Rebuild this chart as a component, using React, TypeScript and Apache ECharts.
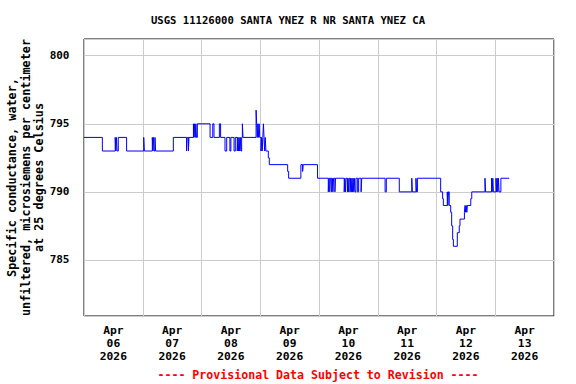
import React, { useEffect, useRef } from "react";
import * as echarts from "echarts";

// Hours since Apr 06 2026 00:00 at which a new reading starts
const hours: number[] = [
  0, 7.5, 12.75, 13.0, 13.25, 13.5, 14.0, 17.4, 24.4, 24.65, 27.9, 28.15, 28.4, 28.65, 29.0, 29.25,
  36.5, 41.9, 42.15, 42.65, 42.9, 44.7, 44.95, 45.2, 45.45, 45.7, 45.95, 46.3, 51.5, 52.6, 53.1,
  55.3, 55.8, 57.6, 58.3, 59.6, 60.0, 61.3, 61.8, 62.6, 62.85, 63.1, 63.35, 63.6, 63.85, 64.1, 64.4,
  64.7, 64.95, 70.3, 70.55, 70.8, 71.05, 71.3, 71.55, 71.8, 72.3, 72.55, 72.8, 73.05, 73.3, 73.55,
  73.8, 74.05, 74.3, 75.3, 75.7, 83.2, 83.6, 88.6, 89.3, 89.55, 95.4, 99.8, 100.05, 100.4, 100.65,
  101.2, 101.45, 101.7, 101.95, 102.5, 102.75, 106.3, 106.55, 106.8, 107.05, 107.6, 107.85, 108.1,
  108.35, 108.7, 108.95, 109.2, 109.45, 109.7, 109.95, 110.2, 110.45, 110.7, 111.1, 111.8, 112.2,
  113.2, 113.45, 123.0, 123.5, 128.8, 133.9, 134.15, 135.6, 135.85, 136.2, 145.7, 146.5, 146.8,
  148.4, 148.65, 148.9, 149.2, 149.8, 150.2, 150.6, 150.9, 152.5, 153.3, 153.6, 155.4, 155.65,
  155.9, 156.15, 156.4, 156.6, 158.0, 158.4, 163.8, 164.05, 166.5, 166.75, 167.0, 167.25, 168.3,
  168.55, 168.8, 169.05, 169.3, 169.55, 170.3, 173.7,
];

// Specific conductance (microsiemens per cm at 25 °C)
const conductance: number[] = [
  794, 793, 794, 793, 794, 793, 794, 793, 794, 793, 794, 793, 794, 793, 794, 793,
  794, 793, 794, 793, 794, 795, 794, 795, 794, 795, 794, 795, 794, 795, 794,
  795, 794, 793, 794, 793, 794, 793, 794, 793, 794, 793, 794, 793, 794, 793, 794,
  795, 794, 796, 795, 794, 795, 794, 795, 794, 793, 794, 793, 794, 795, 794,
  793, 794, 793, 792.5, 792, 791.5, 791, 792, 791.5, 792, 791, 790, 791, 790, 791,
  790, 791, 790, 791, 790, 791, 790, 791, 790, 791, 790, 791, 790,
  791, 790, 791, 790, 791, 790, 791, 790, 791, 790, 791, 790, 791,
  790, 791, 790, 791, 790, 791, 790, 791, 790, 791, 790, 789.5, 789,
  790, 789, 790, 789, 788.5, 787.5, 786.5, 786, 787, 787.5, 788, 788.5, 789,
  788.5, 789, 788.5, 789, 789.5, 790, 791, 790, 791, 790, 791, 790, 791,
  790, 791, 790, 791, 790, 791, 791,
];

const dayLabels: string[] = ["06", "07", "08", "09", "10", "11", "12", "13"];
const monthLabel = "Apr";
const yearLabel = "2026";

const titleText = "USGS 11126000 SANTA YNEZ R NR SANTA YNEZ CA";
const yAxisName =
  "Specific conductance, water,\nunfiltered, microsiemens per centimeter\nat 25 degrees Celsius";
const footerText = "---- Provisional Data Subject to Revision ----";

const FONT = '"DejaVu Sans Mono", "Liberation Mono", monospace';

export default function App() {
  const ref = useRef<HTMLDivElement>(null);

  useEffect(() => {
    if (!ref.current) return;
    const chart = echarts.init(ref.current, undefined, { renderer: "svg" });
    const data = hours.map((h, i) => [h, conductance[i]]);
    chart.setOption({
      animation: false,
      backgroundColor: "#ffffff",
      title: {
        text: titleText,
        left: "center",
        top: 14,
        padding: 0,
        textStyle: {
          fontFamily: FONT,
          fontWeight: "bold",
          fontSize: 10.6,
          color: "#000",
        },
      },
      grid: {
        left: 84,
        right: 22,
        top: 39,
        bottom: 68,
        show: true,
        borderColor: "#000",
        borderWidth: 1,
        backgroundColor: "transparent",
        containLabel: false,
        outerBoundsMode: "none",
      },
      xAxis: [
        {
          type: "value",
          min: 0,
          max: 192,
          interval: 24,
          axisLine: { show: false },
          axisTick: { show: false },
          axisLabel: { show: false },
          splitLine: { show: true, lineStyle: { color: "#cccccc", width: 1 } },
        },
        {
          type: "value",
          position: "bottom",
          min: 0,
          max: 192,
          interval: 12,
          axisLine: { show: false },
          axisTick: { show: false },
          splitLine: { show: false },
          axisLabel: {
            show: true,
            margin: 8,
            fontFamily: FONT,
            fontWeight: "bold",
            fontSize: 11.3,
            lineHeight: 12.8,
            color: "#000",
            formatter: (v: number) => {
              if (Math.round(v) % 24 !== 12) return "";
              const idx = Math.floor(v / 24);
              return `${monthLabel}\n${dayLabels[idx]}\n${yearLabel}`;
            },
          },
        },
      ],
      yAxis: {
        type: "value",
        min: 780.88,
        max: 801.23,
        axisLine: { show: false },
        axisTick: { show: false },
        splitLine: { show: true, lineStyle: { color: "#cccccc", width: 1 } },
        axisLabel: {
          showMinLabel: false,
          showMaxLabel: false,
          margin: 14.5,
          fontFamily: FONT,
          fontWeight: "bold",
          fontSize: 11,
          color: "#000",
        },
        name: yAxisName,
        nameLocation: "middle",
        nameRotate: 90,
        nameGap: 38,
        nameMoveOverlap: false,
        nameTextStyle: {
          fontFamily: FONT,
          fontWeight: "bold",
          fontSize: 11.8,
          lineHeight: 13.5,
          color: "#000",
          align: "center",
        },
      },
      graphic: [
        {
          type: "text",
          x: 318,
          y: 375,
          style: {
            text: footerText,
            align: "center",
            verticalAlign: "middle",
            fill: "#ff0000",
            fontFamily: FONT,
            fontWeight: "bold",
            fontSize: 11.6,
          },
        },
      ],
      series: [
        {
          type: "line",
          xAxisIndex: 0,
          data,
          step: "end",
          showSymbol: false,
          symbol: "none",
          lineStyle: { color: "#0000ff", width: 1 },
          emphasis: { disabled: true },
        },
      ],
    });
    return () => chart.dispose();
  }, []);

  return (
    <div
      ref={ref}
      style={{ position: "fixed", left: 0, top: 0, width: 576, height: 384, background: "#fff" }}
    />
  );
}
